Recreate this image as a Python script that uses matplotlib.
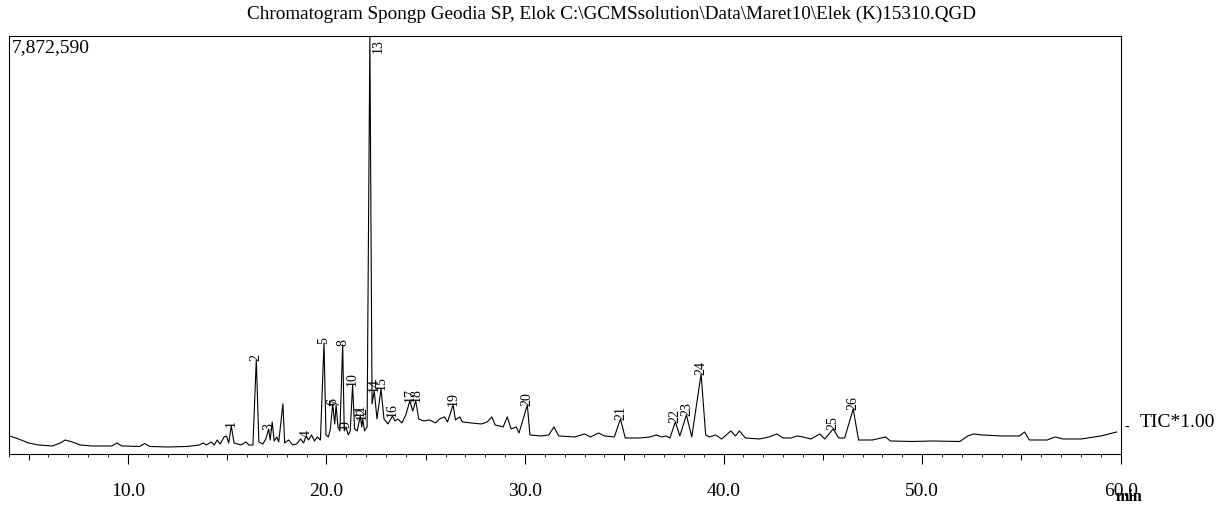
import matplotlib
matplotlib.use("Agg")
import matplotlib.pyplot as plt
from matplotlib.ticker import MultipleLocator, FixedLocator
import numpy as np

# ---- data (retention time in min, intensity in counts) ----
trace_time = [4.05, 4.5, 5.0, 5.5, 6.2, 6.6, 6.85, 7.2, 7.6, 8.2, 9.2, 9.45, 9.7,
              10.6, 10.85, 11.1, 12.0, 13.0, 13.6, 13.8, 13.95, 14.2, 14.35, 14.5,
              14.65, 14.85, 14.97, 15.08, 15.21, 15.35, 15.7, 15.95, 16.1, 16.3,
              16.47, 16.6, 16.8, 16.95, 17.09, 17.17, 17.27, 17.37, 17.5, 17.6,
              17.81, 17.9, 18.1, 18.3, 18.5, 18.7, 18.85, 18.98, 19.1, 19.25, 19.4,
              19.55, 19.7, 19.88, 19.98, 20.1, 20.2, 20.32, 20.42, 20.49, 20.58,
              20.68, 20.82, 20.9, 20.99, 21.1, 21.2, 21.32, 21.42, 21.55, 21.71,
              21.78, 21.83, 21.92, 22.05, 22.19, 22.3, 22.41, 22.55, 22.75, 22.9,
              23.1, 23.33, 23.45, 23.6, 23.8, 24.0, 24.2, 24.35, 24.5, 24.65, 24.9,
              25.2, 25.5, 25.7, 25.95, 26.1, 26.38, 26.5, 26.72, 26.85, 27.3, 27.8,
              28.1, 28.33, 28.5, 28.9, 29.11, 29.3, 29.56, 29.7, 30.12, 30.25, 30.8,
              31.2, 31.46, 31.7, 32.5, 33.0, 33.3, 33.7, 34.0, 34.5, 34.81, 35.05,
              35.8, 36.3, 36.6, 36.9, 37.1, 37.3, 37.57, 37.8, 38.13, 38.4, 38.87,
              39.1, 39.3, 39.6, 39.9, 40.37, 40.6, 40.8, 41.1, 41.8, 42.3, 42.68,
              43.0, 43.4, 43.7, 44.0, 44.4, 44.85, 45.1, 45.52, 45.8, 46.1, 46.53,
              46.8, 47.5, 48.16, 48.4, 49.5, 50.5, 51.9, 52.3, 52.6, 53.0, 54.0,
              54.9, 55.16, 55.4, 56.3, 56.7, 57.1, 58.0, 59.0, 59.8]
trace_counts = [340000, 283000, 208000, 170000, 151000, 208000, 264000, 227000,
                170000, 151000, 151000, 208000, 151000, 142000, 198000, 142000,
                132000, 142000, 170000, 208000, 170000, 227000, 170000, 264000,
                189000, 321000, 340000, 208000, 529000, 208000, 170000, 227000,
                170000, 170000, 1775000, 227000, 189000, 283000, 472000, 264000,
                604000, 245000, 321000, 227000, 944000, 208000, 264000, 170000,
                189000, 283000, 208000, 340000, 264000, 359000, 245000, 321000,
                264000, 2096000, 359000, 321000, 472000, 944000, 566000, 925000,
                510000, 434000, 2058000, 434000, 510000, 359000, 434000, 1303000,
                472000, 434000, 717000, 510000, 661000, 434000, 510000, 7872590,
                944000, 1189000, 661000, 1227000, 661000, 566000, 717000, 623000,
                661000, 585000, 736000, 1001000, 812000, 1001000, 661000, 623000,
                642000, 585000, 661000, 699000, 604000, 925000, 642000, 699000,
                604000, 585000, 566000, 604000, 699000, 547000, 510000, 699000,
                472000, 510000, 396000, 925000, 359000, 340000, 359000, 510000,
                340000, 321000, 378000, 321000, 396000, 340000, 321000, 661000,
                302000, 302000, 321000, 359000, 321000, 340000, 302000, 604000,
                340000, 736000, 321000, 1510000, 359000, 321000, 359000, 283000,
                434000, 340000, 434000, 302000, 283000, 321000, 378000, 302000,
                302000, 340000, 321000, 283000, 378000, 283000, 472000, 302000,
                302000, 850000, 264000, 264000, 321000, 245000, 236000, 245000,
                236000, 340000, 378000, 359000, 340000, 340000, 415000, 264000,
                264000, 321000, 283000, 283000, 340000, 415000]

peak_labels = ["1", "2", "3", "4", "5", "6", "7", "8", "9", "10", "11", "12",
               "14", "15", "16", "17", "18", "19", "20", "21", "22", "23", "24",
               "25", "26"]
peak_times = [15.21, 16.47, 17.09, 18.98, 19.88, 20.32, 20.49, 20.82, 20.99,
              21.32, 21.71, 21.83, 22.41, 22.75, 23.33, 24.2, 24.5, 26.38,
              30.12, 34.81, 37.57, 38.13, 38.87, 45.52, 46.53]
peak_counts = [529000, 1775000, 472000, 340000, 2096000, 944000, 925000,
               2058000, 510000, 1303000, 717000, 661000, 1189000, 1227000,
               717000, 1001000, 1001000, 925000, 925000, 661000, 604000,
               736000, 1510000, 472000, 850000]
top_peak_label = "13"
top_peak_time = 22.19

y_max = 7872590
x_min, x_max = 4.0, 60.0
x_tick_values = [10, 20, 30, 40, 50, 60]
x_tick_labels = ["10.0", "20.0", "30.0", "40.0", "50.0", "60.0"]
mid_tick_values = [5, 15, 25, 35, 45, 55]

title = r"Chromatogram Spongp Geodia SP, Elok C:\GCMSsolution\Data\Maret10\Elek (K)15310.QGD"

# ---- figure ----
SERIF = "Liberation Serif"
fig = plt.figure(figsize=(12.2, 5.06), dpi=100)
ax = fig.add_axes([0.0071, 0.1008, 0.9115, 0.8251])

ax.plot(trace_time, trace_counts, color="black", lw=0.8)
ax.set_xlim(x_min, x_max)
ax.set_ylim(0, y_max)

for sp in ax.spines.values():
    sp.set_linewidth(0.8)

ax.set_yticks([])
ax.xaxis.set_major_locator(FixedLocator(x_tick_values))
ax.set_xticklabels(x_tick_labels, fontfamily=SERIF, fontsize=14)
ax.xaxis.set_minor_locator(MultipleLocator(1))
ax.tick_params(axis="x", which="major", direction="out", length=7, width=0.8, pad=13)
ax.tick_params(axis="x", which="minor", direction="out", length=2.2, width=0.6)

sec = ax.secondary_xaxis("bottom")
sec.set_xticks(mid_tick_values)
sec.set_xticklabels([])
sec.tick_params(axis="x", direction="out", length=4, width=0.7)
sec.spines["bottom"].set_visible(False)

# peak labels
for lab, t, c in zip(peak_labels, peak_times, peak_counts):
    ax.text(t, c, lab, rotation=90, ha="center", va="bottom",
            fontfamily=SERIF, fontsize=10, clip_on=False)
ax.text(top_peak_time + 0.1, y_max * 0.995, top_peak_label, rotation=90,
        ha="left", va="top", fontfamily=SERIF, fontsize=10)

# texts
ax.text(0.003, 0.995, f"{y_max:,}", transform=ax.transAxes, ha="left", va="top",
        fontfamily=SERIF, fontsize=14)
fig.text(0.501, 0.972, title, ha="center", va="center", fontfamily=SERIF, fontsize=13.8)
fig.text(0.934, 0.166, "TIC*1.00", ha="left", va="center", fontfamily=SERIF, fontsize=14)
fig.text(0.922, 0.155, "-", ha="left", va="center", fontfamily=SERIF, fontsize=10)
fig.text(0.925, 0.001, "min", ha="center", va="bottom", fontfamily=SERIF,
         fontsize=11.5, fontweight="bold")

fig.savefig("out.png", dpi=100)
